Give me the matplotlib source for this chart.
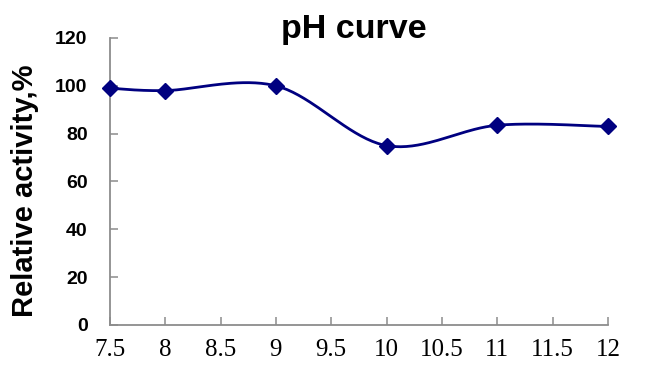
import numpy as np
import matplotlib
matplotlib.use("Agg")
import matplotlib.pyplot as plt

# datos
ph = [7.5, 8, 9, 10, 11, 12]
activity = [99, 98, 100, 75, 83.5, 83]
xticks = [7.5, 8, 8.5, 9, 9.5, 10, 10.5, 11, 11.5, 12]
xtick_labels = ["7.5", "8", "8.5", "9", "9.5", "10", "10.5", "11", "11.5", "12"]
yticks = [0, 20, 40, 60, 80, 100, 120]


def smooth(x, y, n=40):
    # linea suavizada estilo Excel (Catmull-Rom / Bezier)
    x = np.asarray(x, float)
    y = np.asarray(y, float)
    px = np.concatenate([[x[0]], x, [x[-1]]])
    py = np.concatenate([[y[0]], y, [y[-1]]])
    xs, ys = [], []
    t = np.linspace(0, 1, n)
    for i in range(1, len(px) - 2):
        p0 = np.array([px[i], py[i]])
        p3 = np.array([px[i + 1], py[i + 1]])
        p1 = p0 + (np.array([px[i + 1], py[i + 1]]) - np.array([px[i - 1], py[i - 1]])) / 6
        p2 = p3 - (np.array([px[i + 2], py[i + 2]]) - np.array([px[i], py[i]])) / 6
        b = ((1 - t) ** 3)[:, None] * p0 + (3 * (1 - t) ** 2 * t)[:, None] * p1 \
            + (3 * (1 - t) * t ** 2)[:, None] * p2 + (t ** 3)[:, None] * p3
        xs.extend(b[:, 0])
        ys.extend(b[:, 1])
    return xs, ys


fig = plt.figure(figsize=(6.46, 3.80), dpi=100)
ax = fig.add_axes([0.170, 0.145, 0.771, 0.755])

sx, sy = smooth(ph, activity)
ax.plot(sx, sy, color="#000080", linewidth=2.0, zorder=2, clip_on=False)
ax.plot(ph, activity, linestyle="none", marker="D", markersize=8.5,
        color="#000080", zorder=3, clip_on=False)

ax.set_xlim(7.5, 12)
ax.set_ylim(0, 120)
ax.set_xticks(xticks)
ax.set_xticklabels(xtick_labels, family="Liberation Serif", fontsize=18)
ax.set_yticks(yticks)
for lab in ax.get_yticklabels():
    lab.set_family("Liberation Sans")
    lab.set_fontweight("bold")
    lab.set_fontsize(14)

for s in ["top", "right"]:
    ax.spines[s].set_visible(False)
for s in ["left", "bottom"]:
    ax.spines[s].set_color("#8c8c8c")
    ax.spines[s].set_linewidth(1.3)
ax.tick_params(axis="both", direction="in", length=6, width=1.1, color="#8c8c8c")
ax.tick_params(axis="x", pad=10)
ax.tick_params(axis="y", pad=16)

fig.text(0.0387, 0.497, "Relative activity,%", family="Liberation Sans",
         fontweight="bold", fontsize=21, rotation=90, ha="center", va="center")
fig.text(0.547, 0.9, "pH curve", family="Liberation Sans", fontweight="bold",
         fontsize=24.5, ha="center", va="baseline")

fig.savefig("out.png", dpi=100)
